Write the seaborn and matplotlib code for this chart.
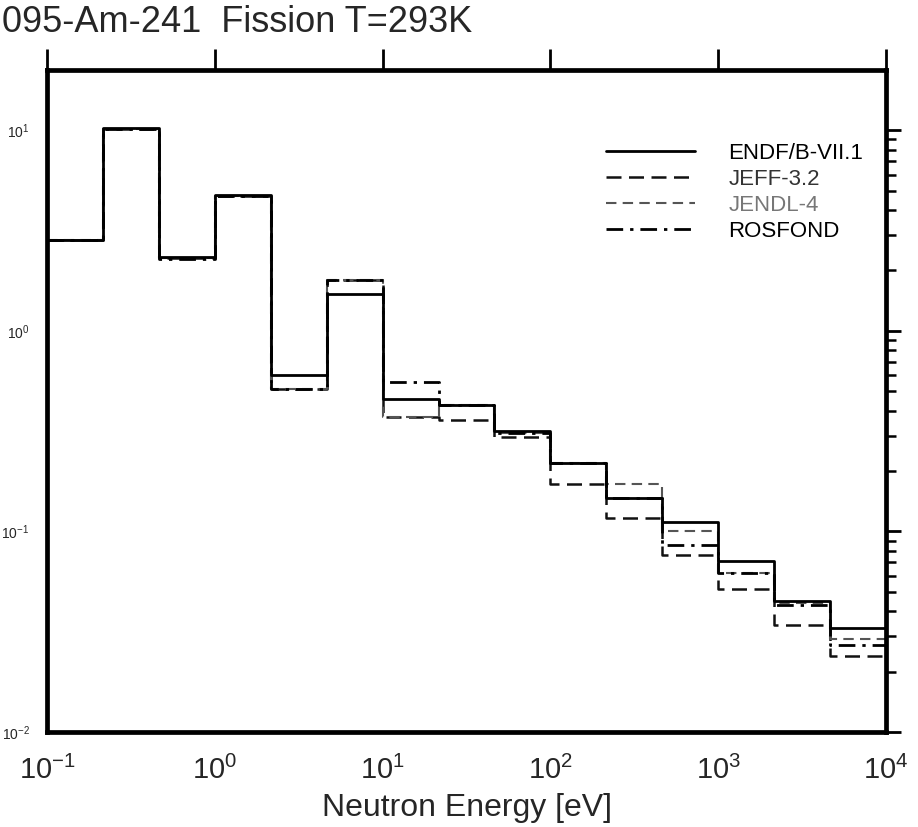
import matplotlib
matplotlib.use("Agg")
import matplotlib.pyplot as plt
from matplotlib.ticker import LogLocator, NullLocator
import seaborn as sns
import pandas as pd

# ---- data ----
edges = [0.1, 0.2154, 0.4642, 1.0, 2.154, 4.642, 10.0, 21.54, 46.42,
         100.0, 215.4, 464.2, 1000.0, 2154.0, 4642.0, 10000.0]
endf = [2.85, 10.2, 2.32, 4.73, 0.603, 1.53, 0.457, 0.427, 0.316,
        0.219, 0.146, 0.111, 0.0708, 0.0452, 0.0331]
jeff = [2.83, 10.1, 2.30, 4.70, 0.513, 1.80, 0.372, 0.359, 0.295,
        0.172, 0.116, 0.076, 0.0519, 0.0343, 0.0240]
jendl = [2.84, 10.15, 2.31, 4.71, 0.513, 1.80, 0.372, 0.427, 0.309,
         0.219, 0.172, 0.100, 0.0617, 0.0442, 0.0292]
rosfond = [2.82, 10.1, 2.29, 4.69, 0.513, 1.80, 0.556, 0.425, 0.309,
           0.218, 0.146, 0.086, 0.0617, 0.0432, 0.0272]
labels = ["ENDF/B-VII.1", "JEFF-3.2", "JENDL-4", "ROSFOND"]
title = "095-Am-241  Fission T=293K"
xlabel = "Neutron Energy [eV]"

sns.set_style("white")
plt.rcParams["font.family"] = ["Liberation Sans", "DejaVu Sans"]
plt.rcParams["mathtext.fontset"] = "custom"
plt.rcParams["mathtext.rm"] = "Liberation Sans"
plt.rcParams["mathtext.it"] = "Liberation Sans:italic"
plt.rcParams["mathtext.bf"] = "Liberation Sans:bold"

fig = plt.figure(figsize=(9.18, 8.27), dpi=100)
ax = fig.add_axes([47 / 918, 1 - 732 / 827, (886 - 47) / 918, (732 - 70) / 827])

series = [endf, jeff, jendl, rosfond]
styles = [
    dict(color="black", linestyle="-", linewidth=2.0),
    dict(color="#111111", linestyle=(0, (6, 3)), linewidth=1.8),
    dict(color="#555555", linestyle=(0, (5, 3)), linewidth=1.5),
    dict(color="black", linestyle=(0, (6, 2.5, 1.2, 2.5)), linewidth=2.0),
]
order = [1, 2, 3, 0]
for i in order:
    vals = series[i] + [series[i][-1]]
    df = pd.DataFrame({"E": edges, "xs": vals})
    sns.lineplot(data=df, x="E", y="xs", ax=ax, drawstyle="steps-post",
                 estimator=None, sort=False, label=labels[i], **styles[i])

ax.set_xscale("log")
ax.set_yscale("log")
ax.set_xlim(0.1, 1e4)
ax.set_ylim(1e-2, 10 ** 1.3)

ax.xaxis.set_major_locator(LogLocator(base=10, numticks=10))
ax.xaxis.set_minor_locator(NullLocator())
ax.yaxis.set_major_locator(LogLocator(base=10, numticks=10))
ax.yaxis.set_minor_locator(LogLocator(base=10, subs=range(2, 10), numticks=20))

for sp in ax.spines.values():
    sp.set_linewidth(3.4)
    sp.set_color("black")

ax.tick_params(axis="both", which="both", direction="out", top=True, right=True,
               color="black")
ax.tick_params(axis="x", which="major", length=15, width=2.0, labelsize=21, pad=2)
ax.tick_params(axis="y", which="major", length=11, width=2.0, labelsize=10, pad=1.5)
ax.tick_params(axis="y", which="minor", length=7, width=1.8)

ax.set_xlabel(xlabel, fontsize=23, labelpad=6)
ax.set_ylabel("")

fig.text(2 / 918, 1 - 22 / 827, title, fontsize=26, ha="left", va="center")

h, l = ax.get_legend_handles_labels()
hm = dict(zip(l, h))
leg = ax.legend([hm[x] for x in labels], labels, loc="upper left",
                bbox_to_anchor=(606 / 918, 1 - 143 / 827),
                bbox_transform=fig.transFigure, frameon=False,
                fontsize=16, handlelength=4.0, handletextpad=1.5,
                labelspacing=0.22, borderpad=0, borderaxespad=0)
tcols = ["black", "#333333", "#777777", "black"]
for t, c in zip(leg.get_texts(), tcols):
    t.set_color(c)

fig.savefig("out.png", dpi=100)
